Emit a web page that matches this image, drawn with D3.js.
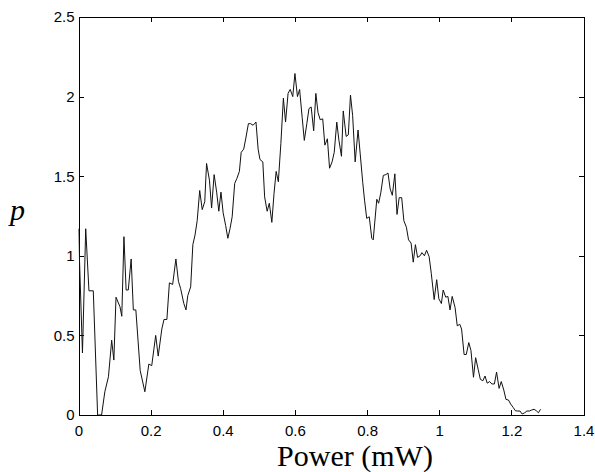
<!DOCTYPE html>
<html>
<head>
<meta charset="utf-8">
<script src="https://cdn.jsdelivr.net/npm/d3@7"></script>
<style>
  body { margin: 0; background: #fff; }
  svg { display: block; }
</style>
</head>
<body>
<div id="chart"></div>
<script>
// x positions (mW)
const powerVals = [
  0, 0.011, 0.020, 0.029, 0.041, 0.053, 0.064, 0.073, 0.083, 0.092,
  0.098, 0.104, 0.115, 0.120, 0.126, 0.132, 0.138, 0.146, 0.152, 0.159,
  0.171, 0.184, 0.195, 0.203, 0.214, 0.221, 0.231, 0.237, 0.245, 0.252,
  0.261, 0.270, 0.277, 0.283, 0.292, 0.298, 0.303, 0.311, 0.317, 0.323,
  0.329, 0.336, 0.343, 0.350, 0.355, 0.363, 0.369, 0.376, 0.383, 0.389,
  0.395, 0.401, 0.408, 0.414, 0.420, 0.426, 0.433, 0.439, 0.446, 0.451,
  0.458, 0.464, 0.471, 0.477, 0.484, 0.492, 0.498, 0.503, 0.511, 0.516,
  0.523, 0.529, 0.536, 0.542, 0.548, 0.554, 0.561, 0.568, 0.574, 0.581,
  0.587, 0.594, 0.600, 0.607, 0.613, 0.620, 0.626, 0.633, 0.639, 0.645,
  0.652, 0.658, 0.664, 0.670, 0.677, 0.683, 0.690, 0.696, 0.703, 0.709,
  0.716, 0.722, 0.729, 0.734, 0.742, 0.748, 0.754, 0.760, 0.767, 0.775,
  0.781, 0.788, 0.793, 0.799, 0.806, 0.813, 0.817, 0.827, 0.832, 0.838,
  0.845, 0.852, 0.858, 0.864, 0.870, 0.877, 0.883, 0.889, 0.896, 0.902,
  0.909, 0.915, 0.922, 0.928, 0.934, 0.940, 0.947, 0.952, 0.959, 0.965,
  0.972, 0.978, 0.986, 0.993, 0.999, 1.006, 1.011, 1.018, 1.024, 1.030,
  1.036, 1.044, 1.050, 1.057, 1.062, 1.069, 1.075, 1.082, 1.088, 1.095,
  1.101, 1.108, 1.114, 1.121, 1.127, 1.133, 1.140, 1.146, 1.153, 1.159,
  1.166, 1.172, 1.179, 1.185, 1.192, 1.198, 1.205, 1.211, 1.218, 1.224,
  1.230, 1.237, 1.243, 1.250, 1.256, 1.263, 1.269, 1.275, 1.281
];

// p values at each position
const pVals = [
  1.17, 0.39, 1.17, 0.78, 0.78, 0, 0, 0.146, 0.24, 0.47,
  0.345, 0.74, 0.68, 0.62, 1.12, 0.785, 0.785, 0.98, 0.66, 0.66,
  0.28, 0.146, 0.32, 0.31, 0.50, 0.37, 0.54, 0.60, 0.60, 0.83,
  0.82, 0.98, 0.84, 0.795, 0.70, 0.66, 0.75, 0.805, 1.07, 1.13,
  1.22, 1.41, 1.29, 1.34, 1.58, 1.475, 1.30, 1.51, 1.40, 1.28,
  1.40, 1.27, 1.19, 1.11, 1.17, 1.245, 1.455, 1.485, 1.53, 1.65,
  1.67, 1.74, 1.83, 1.83, 1.82, 1.84, 1.67, 1.605, 1.59, 1.37,
  1.28, 1.33, 1.21, 1.39, 1.53, 1.465, 1.705, 1.99, 1.84, 2.02,
  2.045, 2.00, 2.145, 2.00, 2.045, 1.87, 1.725, 1.83, 1.925, 1.935,
  1.785, 2.02, 1.90, 1.855, 1.86, 1.695, 1.735, 1.55, 1.59, 1.65,
  1.84, 1.725, 1.625, 1.91, 1.75, 1.76, 2.01, 1.88, 1.59, 1.79,
  1.64, 1.46, 1.35, 1.235, 1.245, 1.11, 1.10, 1.355, 1.33, 1.395,
  1.505, 1.51, 1.52, 1.42, 1.38, 1.515, 1.26, 1.365, 1.365, 1.22,
  1.18, 1.10, 1.08, 0.96, 1.07, 0.99, 1.00, 1.02, 1.00, 1.035,
  0.995, 0.89, 0.725, 0.85, 0.73, 0.70, 0.785, 0.74, 0.745, 0.66,
  0.745, 0.675, 0.56, 0.57, 0.54, 0.38, 0.38, 0.455, 0.405, 0.237,
  0.36, 0.287, 0.224, 0.215, 0.245, 0.20, 0.21, 0.195, 0.195, 0.27,
  0.167, 0.21, 0.157, 0.098, 0.094, 0.069, 0.048, 0.027, 0.025, 0.025,
  0.006, 0.014, 0.025, 0.025, 0.031, 0.036, 0.027, 0.014, 0.036
];

const xTicks = [0, 0.2, 0.4, 0.6, 0.8, 1, 1.2, 1.4];
const yTicks = [0, 0.5, 1, 1.5, 2, 2.5];

const W = 595, H = 472;
const plotLeft = 78.5, plotRight = 583.5, plotTop = 17, plotBottom = 415;

const svg = d3.select('#chart')
  .append('svg')
  .attr('width', W)
  .attr('height', H);

const x = d3.scaleLinear().domain([0, 1.4]).range([plotLeft, plotRight]);
const y = d3.scaleLinear().domain([0, 2.5]).range([plotBottom, plotTop]);

const tickFont = '"Liberation Sans", Arial, Helvetica, sans-serif';

// bottom axis with labels, ticks pointing inward
const xAxis = svg.append('g')
  .attr('transform', `translate(0,${plotBottom})`)
  .call(d3.axisBottom(x).tickValues(xTicks).tickFormat(d3.format('')).tickSizeInner(-5).tickSizeOuter(0).tickPadding(10));

// left axis with labels
const yAxis = svg.append('g')
  .attr('transform', `translate(${plotLeft},0)`)
  .call(d3.axisLeft(y).tickValues(yTicks).tickFormat(d3.format('')).tickSizeInner(-5).tickSizeOuter(0).tickPadding(4));

// top and right axes close the box
const topAxis = svg.append('g')
  .attr('transform', `translate(0,${plotTop})`)
  .call(d3.axisTop(x).tickValues(xTicks).tickFormat('').tickSizeInner(-5).tickSizeOuter(0));

const rightAxis = svg.append('g')
  .attr('transform', `translate(${plotRight},0)`)
  .call(d3.axisRight(y).tickValues(yTicks).tickFormat('').tickSizeInner(-5).tickSizeOuter(0));

[xAxis, yAxis, topAxis, rightAxis].forEach(g => {
  g.selectAll('path, line')
    .style('stroke', '#000')
    .style('stroke-width', 1)
    .attr('shape-rendering', 'crispEdges');
  g.selectAll('text')
    .style('fill', '#000')
    .style('font-family', tickFont)
    .style('font-size', '15px');
});

// clip the trace to the plot box
svg.append('defs').append('clipPath')
  .attr('id', 'plot-clip')
  .append('rect')
  .attr('x', plotLeft)
  .attr('y', plotTop)
  .attr('width', plotRight - plotLeft)
  .attr('height', plotBottom - plotTop);

const points = powerVals.map((v, i) => ({ power: v, p: pVals[i] }));

const line = d3.line()
  .x(d => x(d.power))
  .y(d => y(d.p));

svg.append('path')
  .datum(points)
  .attr('clip-path', 'url(#plot-clip)')
  .attr('d', line)
  .style('fill', 'none')
  .style('stroke', '#111')
  .style('stroke-width', 1)
  .style('stroke-linejoin', 'miter');

// axis titles
svg.append('text')
  .attr('x', 355)
  .attr('y', 466)
  .style('text-anchor', 'middle')
  .style('font-family', '"Liberation Serif", "Times New Roman", serif')
  .style('font-size', '30px')
  .style('fill', '#000')
  .text('Power (mW)');

svg.append('text')
  .attr('x', 10)
  .attr('y', 220)
  .style('font-family', '"Liberation Serif", "Times New Roman", serif')
  .style('font-style', 'italic')
  .style('font-size', '30px')
  .style('fill', '#000')
  .text('p');
</script>
</body>
</html>
